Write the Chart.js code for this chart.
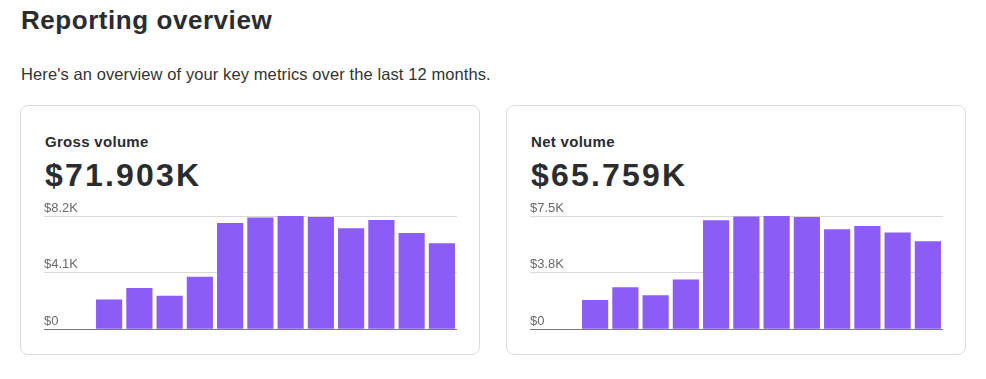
<!DOCTYPE html>
<html>
<head>
<meta charset="utf-8">
<script src="https://cdn.jsdelivr.net/npm/chart.js@4/dist/chart.umd.min.js"></script>
<style>
  html, body { margin: 0; padding: 0; background: #fff; width: 986px; height: 379px; overflow: hidden; }
  body { font-family: "Liberation Sans", Arial, Helvetica, sans-serif; color: #2b2c30; position: relative; }
  h1 { position: absolute; left: 21px; top: 5px; margin: 0; font-size: 26px; font-weight: bold; letter-spacing: 0.55px; }
  .sub { position: absolute; left: 21px; top: 65px; margin: 0; font-size: 16.5px; letter-spacing: 0.1px; color: #333; }
  .card { position: absolute; top: 105px; width: 458px; height: 248px; border: 1px solid #dcdcdc; border-radius: 8px; box-sizing: content-box; }
  .card .title { position: absolute; left: 24px; top: 27px; font-size: 15px; font-weight: bold; letter-spacing: 0.3px; color: #2b2c30; }
  .card .value { position: absolute; left: 24px; top: 51px; font-size: 32px; font-weight: bold; letter-spacing: 2.2px; color: #2b2c30; }
  .card .cw { position: absolute; left: 23px; top: 94px; width: 413px; height: 137px; }
</style>
</head>
<body>
<h1>Reporting overview</h1>
<p class="sub">Here's an overview of your key metrics over the last 12 months.</p>

<div class="card" style="left:20px;">
  <div class="title">Gross volume</div>
  <div class="value">$71.903K</div>
  <div class="cw"><canvas id="gross"></canvas></div>
</div>
<div class="card" style="left:506px;">
  <div class="title">Net volume</div>
  <div class="value">$65.759K</div>
  <div class="cw"><canvas id="net"></canvas></div>
</div>

<script>
const months = ["M1","M2","M3","M4","M5","M6","M7","M8","M9","M10","M11","M12"];
const grossValues = [2150, 2990, 2420, 3800, 7700, 8090, 8200, 8130, 7320, 7910, 6960, 6220];
const netValues = [1940, 2780, 2250, 3290, 7220, 7460, 7500, 7440, 6620, 6840, 6400, 5830];
const grossTicks = [0, 4100, 8200];
const netTicks = [0, 3750, 7500];

function fmt(v) {
  if (v === 0) return "$0";
  return "$" + (v / 1000).toFixed(1) + "K";
}

function makeChart(id, values, ticks) {
  const max = ticks[ticks.length - 1];
  return new Chart(document.getElementById(id), {
    type: "bar",
    data: {
      labels: months,
      datasets: [{
        data: values,
        backgroundColor: "#8b5cf6",
        borderWidth: 0,
        categoryPercentage: 1.0,
        barPercentage: 0.865
      }]
    },
    options: {
      responsive: true,
      maintainAspectRatio: false,
      animation: false,
      layout: { padding: { top: 16, right: 0, bottom: 0, left: 0 } },
      plugins: { legend: { display: false }, tooltip: { enabled: false } },
      scales: {
        x: { display: false },
        y: {
          min: 0,
          max: max,
          afterBuildTicks: (scale) => { scale.ticks = ticks.map(v => ({ value: v })); },
          afterFit: (scale) => { scale.width = 50; },
          border: { display: false },
          grid: {
            drawTicks: true,
            tickLength: 50,
            color: (ctx) => (ctx.tick && ctx.tick.value === 0) ? "#7a7a7a" : "#d9d9d9",
            lineWidth: 1
          },
          ticks: {
            crossAlign: "far",
            padding: 0,
            labelOffset: -8,
            color: "#6a6a6a",
            font: { family: "'Liberation Sans', Arial, sans-serif", size: 13 },
            callback: (v) => fmt(v)
          }
        }
      }
    }
  });
}

makeChart("gross", grossValues, grossTicks);
makeChart("net", netValues, netTicks);
</script>
</body>
</html>
